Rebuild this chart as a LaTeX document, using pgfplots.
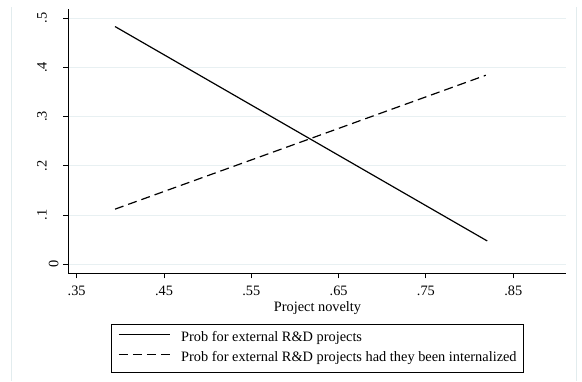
\documentclass[border=0pt]{standalone}
\usepackage{fontspec}
\setmainfont{Liberation Serif}
\usepackage{pgfplots}
\pgfplotsset{compat=1.18}
\definecolor{gridc}{RGB}{232,240,242}
\definecolor{framec}{RGB}{226,236,238}
\begin{document}
\fontsize{14.4}{17}\selectfont
\begin{tikzpicture}[x=1bp,y=1bp]
\useasboundingbox (0,0) rectangle (582,381);
\fill[white] (0,0) rectangle (582,381);
\draw[framec, line width=1bp] (11.7,0) -- (11.7,374);
\draw[framec, line width=1bp] (576,0) -- (576,374);
\begin{axis}[
  at={(68.3bp,107.7bp)}, anchor=south west,
  scale only axis, width=497.7bp, height=264bp,
  xmin=0.3404, xmax=0.9104, ymin=-0.0183, ymax=0.518,
  axis x line*=bottom, axis y line*=left,
  axis line style={line width=1bp, -},
  tick align=outside, major tick length=5bp,
  tick style={line width=1bp, black},
  xtick={0.35,0.45,0.55,0.65,0.75,0.85},
  xticklabels={.35,.45,.55,.65,.75,.85},
  ytick={0,0.1,0.2,0.3,0.4,0.5},
  yticklabels={\raisebox{-11.7bp}{0},.1,.2,.3,.4,.5},
  xticklabel style={anchor=base, yshift=-16.7bp},
  yticklabel style={xshift=-16.6bp, rotate=90, anchor=base},
  ymajorgrids, major grid style={gridc, line width=1bp},
  xlabel={Project novelty},
  xlabel style={at={(axis description cs:0.5007,0)}, anchor=base, yshift=-38.5bp},
  legend cell align=left,
  legend image code/.code={\draw[#1] (0bp,3.5bp) -- (51bp,3.5bp);},
  legend style={at={(axis description cs:0.5007,-0.192)}, anchor=north,
    draw=black, line width=0.8bp, fill=white,
    nodes={inner sep=0pt, text height=10bp, text depth=3bp},
    inner xsep=7bp, inner ysep=7.5bp, row sep=7bp, column sep=10.6bp},
]
\addplot[black, line width=1.2bp] coordinates {(0.3939,0.483) (0.8202,0.0474)};
\addlegendentry{Prob for external R\&D projects}
\addplot[black, line width=1.2bp, dash pattern=on 9bp off 5bp] coordinates {(0.3939,0.112) (0.8185,0.384)};
\addlegendentry{Prob for external R\&D projects had they been internalized}
\end{axis}
\end{tikzpicture}
\end{document}
